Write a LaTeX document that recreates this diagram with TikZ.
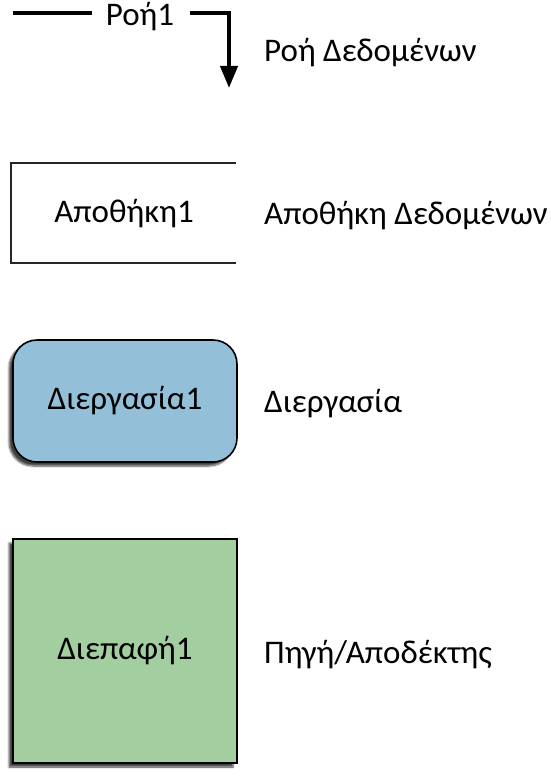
\documentclass[tikz,border=0pt]{standalone}
\usepackage{fontspec}
\setmainfont{Carlito}
\usetikzlibrary{shadows.blur,arrows.meta}
\definecolor{procblue}{HTML}{93BFD9}
\definecolor{ifgreen}{HTML}{A3CEA0}
\tikzset{
  lbl/.style={anchor=west,inner sep=0pt,font=\fontsize{33}{38}\selectfont},
  txt/.style={inner sep=0pt,font=\fontsize{33}{38}\selectfont},
  procbox/.style={draw=black,line width=1.6pt,fill=procblue,rounded corners=24pt,
     blur shadow={shadow xshift=-4pt,shadow yshift=-4pt,shadow blur steps=6,shadow opacity=75}},
  ifbox/.style={draw=black,line width=1.6pt,fill=ifgreen,
     blur shadow={shadow xshift=-4pt,shadow yshift=-4pt,shadow blur steps=6,shadow opacity=75}},
  flowline/.style={line width=4pt},
}
\begin{document}
\begin{tikzpicture}[x=1pt,y=-1pt]
\useasboundingbox (0,0) rectangle (550,776);
% flow
\coordinate (f1) at (13,13);
\coordinate (f2) at (92,13);
\coordinate (f3) at (190,13);
\coordinate (f4) at (229,13);
\coordinate (f5) at (229,88);
\node[txt] (flowtxt) at (140,17) {Ροή1};
\draw[flowline] (f1) -- (f2);
\draw[flowline,-{Triangle[width=17pt,length=22pt]}] (f3) -- (f4) -- (f5);
\node[lbl] (l1) at (264,53) {Ροή Δεδομένων};
% store
\coordinate (s1) at (236,163);
\coordinate (s2) at (11,163);
\coordinate (s3) at (11,263);
\coordinate (s4) at (236,263);
\draw[line width=1.5pt,draw=black!85] (s1) -- (s2) -- (s3) -- (s4);
\node[txt] (store) at (124,214) {Αποθήκη1};
\node[lbl] (l2) at (264,216) {Αποθήκη Δεδομένων};
% process
\node[procbox,minimum width=224pt,minimum height=122pt,font=\fontsize{33}{38}\selectfont] (proc) at (125,401) {\raisebox{-1pt}{Διεργασία1}};
\node[lbl] (l3) at (264,404) {Διεργασία};
% interface
\node[ifbox,minimum width=224pt,minimum height=224pt,font=\fontsize{33}{38}\selectfont] (iface) at (125,651) {\raisebox{-4pt}{Διεπαφή1}};
\node[lbl] (l4) at (264,655) {Πηγή/Αποδέκτης};
\end{tikzpicture}
\end{document}
